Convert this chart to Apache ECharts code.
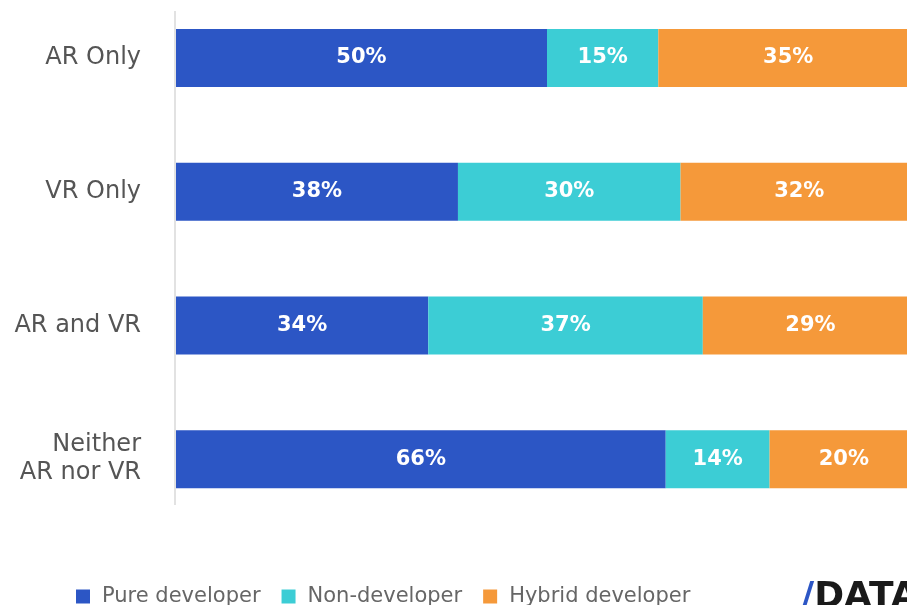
<!DOCTYPE html>
<html>
<head>
<meta charset="utf-8">
<script src="https://cdn.jsdelivr.net/npm/echarts@6/dist/echarts.min.js"></script>
<style>
  html, body { margin: 0; padding: 0; background: #fff; overflow: hidden; }
  /* plot runs past the right and top edges of the window, like the cropped original */
  #chart { position: absolute; left: 0; top: -9px; width: 918px; height: 614px; }
</style>
</head>
<body>
<div id="chart"></div>
<script>
var categories = ['AR Only', 'VR Only', 'AR and VR', 'Neither\nAR nor VR'];
var seriesNames = ['Pure developer', 'Non-developer', 'Hybrid developer'];
var pureDev = [50, 38, 34, 66];
var nonDev = [15, 30, 37, 14];
var hybridDev = [35, 32, 29, 20];

var colors = ['#2c56c5', '#3ccdd5', '#f5993a'];
var labelFont = 'DejaVu Sans';
var chart = echarts.init(document.getElementById('chart'));

function makeSeries(name, data, color) {
    return {
        name: name,
        type: 'bar',
        stack: 'total',
        barWidth: 58,
        clip: false,
        itemStyle: { color: color },
        label: {
            show: true,
            position: 'inside',
            color: '#fff',
            fontFamily: labelFont,
            fontWeight: 'bold',
            fontSize: 21,
            formatter: '{c}%'
        },
        data: data
    };
}

var option = {
    animation: false,
    color: colors,
    grid: { left: 176, right: 0, top: 0, bottom: 79 },
    xAxis: {
        type: 'value',
        min: 0,
        max: 100,
        show: false
    },
    yAxis: {
        type: 'category',
        inverse: true,
        data: categories,
        axisLine: { show: false },
        axisTick: { show: false },
        axisLabel: {
            color: '#555',
            fontFamily: labelFont,
            fontSize: 24,
            margin: 35,
            lineHeight: 28,
            align: 'right'
        }
    },
    legend: {
        left: 76,
        top: 595,
        padding: 0,
        itemWidth: 14,
        itemHeight: 14,
        itemGap: 21,
        icon: 'rect',
        textStyle: { color: '#666', fontFamily: labelFont, fontSize: 21, padding: [0, 0, 0, 7] },
        data: seriesNames
    },
    graphic: [
        {
            type: 'line',
            shape: { x1: 175, y1: 20, x2: 175, y2: 514 },
            style: { stroke: '#d9d9d9', lineWidth: 1.5 }
        },
        {
            type: 'text',
            left: 801,
            top: 589,
            style: {
                text: '{s|/}{d|DATA}',
                rich: {
                    s: { fill: '#2c56c5', fontSize: 36, fontWeight: 'bold', fontFamily: labelFont },
                    d: { fill: '#1a1a1a', fontSize: 36, fontWeight: 'bold', fontFamily: labelFont }
                }
            }
        }
    ],
    series: [
        makeSeries(seriesNames[0], pureDev, colors[0]),
        makeSeries(seriesNames[1], nonDev, colors[1]),
        makeSeries(seriesNames[2], hybridDev, colors[2])
    ]
};

chart.setOption(option);
</script>
</body>
</html>
